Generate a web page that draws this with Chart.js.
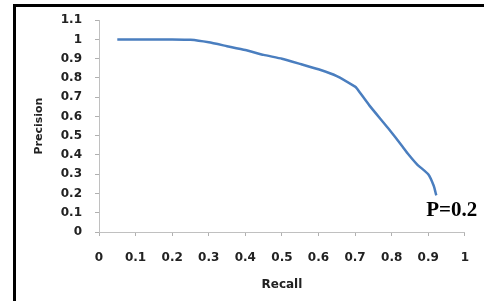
<!DOCTYPE html>
<html>
<head>
<meta charset="utf-8">
<script src="https://cdn.jsdelivr.net/npm/chart.js@4/dist/chart.umd.min.js"></script>
<style>
  html, body { margin: 0; padding: 0; background: #fff; overflow: hidden; }
  #wrap { position: relative; width: 484px; height: 301px; }
  #frame { position: absolute; left: 13px; top: 4px; width: 600px; height: 400px;
           border-left: 3px solid #000; border-top: 3px solid #000; pointer-events: none; }
  canvas { position: absolute; left: 0; top: 0; }
</style>
</head>
<body>
<div id="wrap">
  <canvas id="c" width="484" height="301"></canvas>
  <div id="frame"></div>
</div>
<script>
const recall =    [0.05, 0.10, 0.15, 0.20, 0.25, 0.30, 0.35, 0.40, 0.45, 0.50, 0.55, 0.60, 0.65, 0.70, 0.705, 0.74, 0.79, 0.83, 0.845, 0.87, 0.90, 0.915, 0.922];
const precision = [1.00, 1.00, 1.00, 1.00, 0.998, 0.985, 0.965, 0.945, 0.92, 0.90, 0.873, 0.845, 0.81, 0.755, 0.745, 0.655, 0.54, 0.443, 0.405, 0.35, 0.30, 0.24, 0.19];
const xTickLabels = ["0", "0.1", "0.2", "0.3", "0.4", "0.5", "0.6", "0.7", "0.8", "0.9", "1"];
const yTickLabels = ["0", "0.1", "0.2", "0.3", "0.4", "0.5", "0.6", "0.7", "0.8", "0.9", "1", "1.1"];
const xTitle = "Recall";
const yTitle = "Precision";
const endLabel = "P=0.2";

const points = recall.map((r, i) => ({ x: r, y: precision[i] }));

const endLabelPlugin = {
  id: 'endLabel',
  afterDatasetsDraw(chart) {
    const meta = chart.getDatasetMeta(0);
    const last = meta.data[meta.data.length - 1];
    const ctx = chart.ctx;
    ctx.save();
    ctx.font = 'bold 21px "Liberation Serif", "Times New Roman", serif';
    ctx.fillStyle = '#000';
    ctx.textAlign = 'left';
    ctx.textBaseline = 'alphabetic';
    ctx.fillText(endLabel, last.x - 10, last.y + 21);
    ctx.restore();
  }
};

new Chart(document.getElementById('c'), {
  type: 'line',
  data: {
    datasets: [{
      data: points,
      borderColor: '#4a7ebf',
      borderWidth: 2.5,
      pointRadius: 0,
      fill: false,
      tension: 0.15
    }]
  },
  options: {
    responsive: false,
    animation: false,
    devicePixelRatio: 1,
    layout: { padding: { left: 0, right: 16, top: 20, bottom: 0 } },
    plugins: { legend: { display: false }, tooltip: { enabled: false } },
    scales: {
      x: {
        type: 'linear',
        min: 0, max: 1,
        afterFit(s) { s.height = 69; },
        border: { display: true, color: '#c0c0c0', width: 1 },
        grid: { drawOnChartArea: false, drawTicks: true, tickLength: 4, color: '#b0b0b0' },
        ticks: {
          stepSize: 0.1,
          padding: 15,
          color: '#222',
          font: { family: 'DejaVu Sans', size: 12, weight: 700 },
          maxRotation: 0,
          autoSkip: false,
          callback: (v, i) => xTickLabels[i]
        },
        title: {
          display: true, text: xTitle, color: '#222',
          font: { family: 'DejaVu Sans', size: 12, weight: 700 },
          padding: { top: 0, bottom: 9 }
        }
      },
      y: {
        type: 'linear',
        min: 0, max: 1.1,
        afterFit(s) { s.width = 99; },
        border: { display: true, color: '#c0c0c0', width: 1 },
        grid: { drawOnChartArea: false, drawTicks: true, tickLength: 4, color: '#b0b0b0' },
        ticks: {
          stepSize: 0.1,
          padding: 13,
          color: '#222',
          font: { family: 'DejaVu Sans', size: 12, weight: 700 },
          autoSkip: false,
          callback: (v, i) => yTickLabels[i]
        },
        title: {
          display: true, text: yTitle, color: '#222',
          font: { family: 'DejaVu Sans', size: 11, weight: 700 },
          padding: { top: 33, bottom: 0 }
        }
      }
    }
  },
  plugins: [endLabelPlugin]
});
</script>
</body>
</html>
